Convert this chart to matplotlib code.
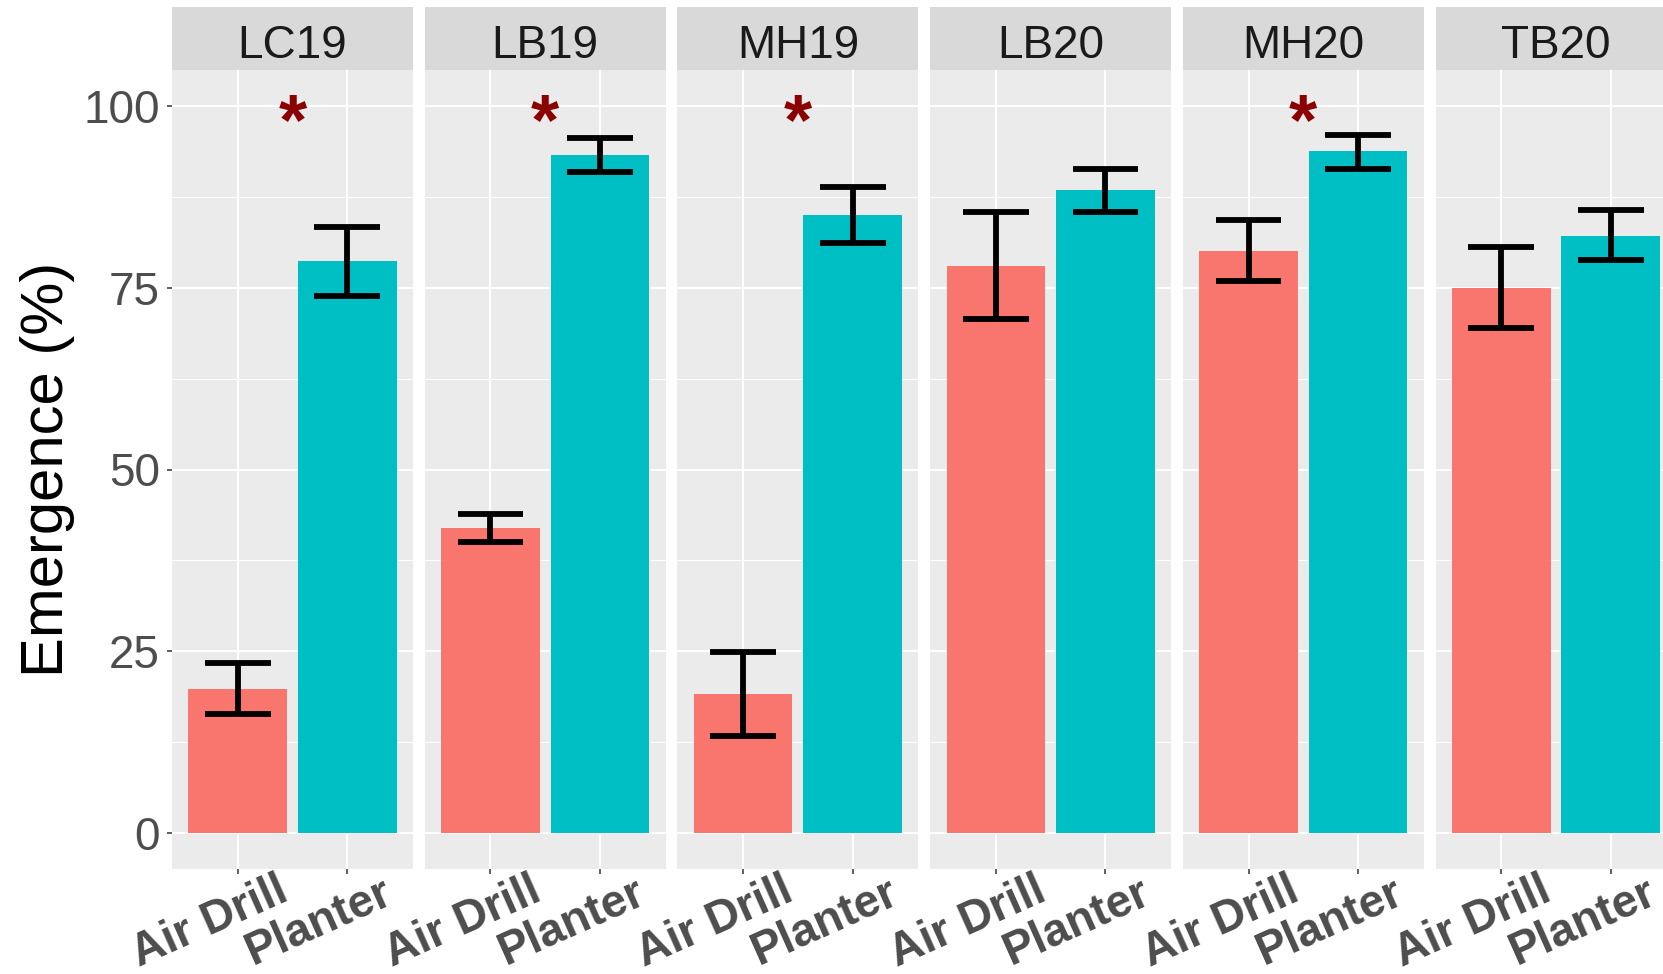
import matplotlib
matplotlib.use("Agg")
import matplotlib.pyplot as plt
from matplotlib.patches import Rectangle
from matplotlib.transforms import ScaledTranslation
import numpy as np

sites = ["LC19", "LB19", "MH19", "LB20", "MH20", "TB20"]
methods = ["Air Drill", "Planter"]
air_mean = [19.8, 42.0, 19.1, 78.0, 80.1, 75.0]
air_lo = [16.3, 40.0, 13.3, 70.7, 75.9, 69.5]
air_hi = [23.3, 43.9, 24.9, 85.5, 84.3, 80.6]
planter_mean = [78.7, 93.3, 85.1, 88.5, 93.8, 82.2]
planter_lo = [73.9, 91.0, 81.2, 85.4, 91.4, 78.8]
planter_hi = [83.4, 95.7, 88.9, 91.4, 96.1, 85.7]
signif = [True, True, True, False, True, False]
star_y = 100
yticks = [0, 25, 50, 75, 100]

colors = ["#F8766D", "#00BFC4"]
W, H = 1663, 974
DPI = 100
fig = plt.figure(figsize=(W / DPI, H / DPI), dpi=DPI)
plt.rcParams["font.family"] = ["Liberation Sans", "DejaVu Sans"]

left0, pw, pitch = 172, 241, 252.7
pb, pt = 869, 70
strip_top = 7

means = [air_mean, planter_mean]
los = [air_lo, planter_lo]
his = [air_hi, planter_hi]
xpos = np.arange(1, len(methods) + 1)

for i, site in enumerate(sites):
    l = left0 + i * pitch
    ax = fig.add_axes([l / W, (H - pb) / H, pw / W, (pb - pt) / H])
    ax.set_facecolor("#EBEBEB")
    ax.set_xlim(0.4, 2.6)
    ax.set_ylim(-5, 105)
    for s in ax.spines.values():
        s.set_visible(False)
    # grid
    for yv in yticks:
        ax.axhline(yv, color="white", lw=1.5, zorder=0)
    for yv in np.array(yticks[:-1]) + 12.5:
        ax.axhline(yv, color="white", lw=0.75, zorder=0)
    for xv in xpos:
        ax.axvline(xv, color="white", lw=1.5, zorder=0)
    for j in range(len(methods)):
        ax.bar(xpos[j], means[j][i], width=0.9, color=colors[j], zorder=2)
        ax.vlines(xpos[j], los[j][i], his[j][i], color="black", lw=4.2, zorder=3)
        ax.hlines([los[j][i], his[j][i]], xpos[j] - 0.3, xpos[j] + 0.3,
                  color="black", lw=4.2, zorder=3)
    if signif[i]:
        ax.text(1.5, star_y, "*", color="#8B0000", fontsize=52, fontweight="bold",
                ha="center", va="center", zorder=4,
                transform=ax.transData + ScaledTranslation(0, -0.19, fig.dpi_scale_trans))
    ax.set_yticks(yticks)
    ax.set_xticks(xpos)
    ax.set_xticklabels([])
    ax.tick_params(axis="x", length=3.6, width=1.1, color="#333333")
    if i == 0:
        ax.set_yticklabels([str(v) for v in yticks], fontsize=33, color="#4D4D4D")
        ax.tick_params(axis="y", length=3.6, width=1.1, color="#333333", pad=5)
    else:
        ax.tick_params(axis="y", length=0)
        ax.set_yticklabels([])
    # x labels
    for j, m in enumerate(methods):
        tr = ax.get_xaxis_transform() + ScaledTranslation(-0.28, -0.53, fig.dpi_scale_trans)
        ax.text(xpos[j], 0, m, transform=tr, rotation=24, ha="center", va="center",
                fontsize=33, fontweight="bold", color="#4D4D4D", clip_on=False)
    # strip
    sh = (pt - strip_top) / (pb - pt)
    ax.add_patch(Rectangle((0, 1), 1, sh, transform=ax.transAxes, facecolor="#D9D9D9",
                           edgecolor="none", clip_on=False))
    ax.text(0.5, 1 + sh / 2, site, ha="center", va="center",
            fontsize=33, color="#1A1A1A",
            transform=ax.transAxes + ScaledTranslation(0, -0.08, fig.dpi_scale_trans))

fig.text(48 / W, 1 - 469 / H, "Emergence (%)", rotation=90, ha="center", va="center",
         fontsize=43, color="black")

fig.savefig("out.png", dpi=DPI, facecolor="white")
